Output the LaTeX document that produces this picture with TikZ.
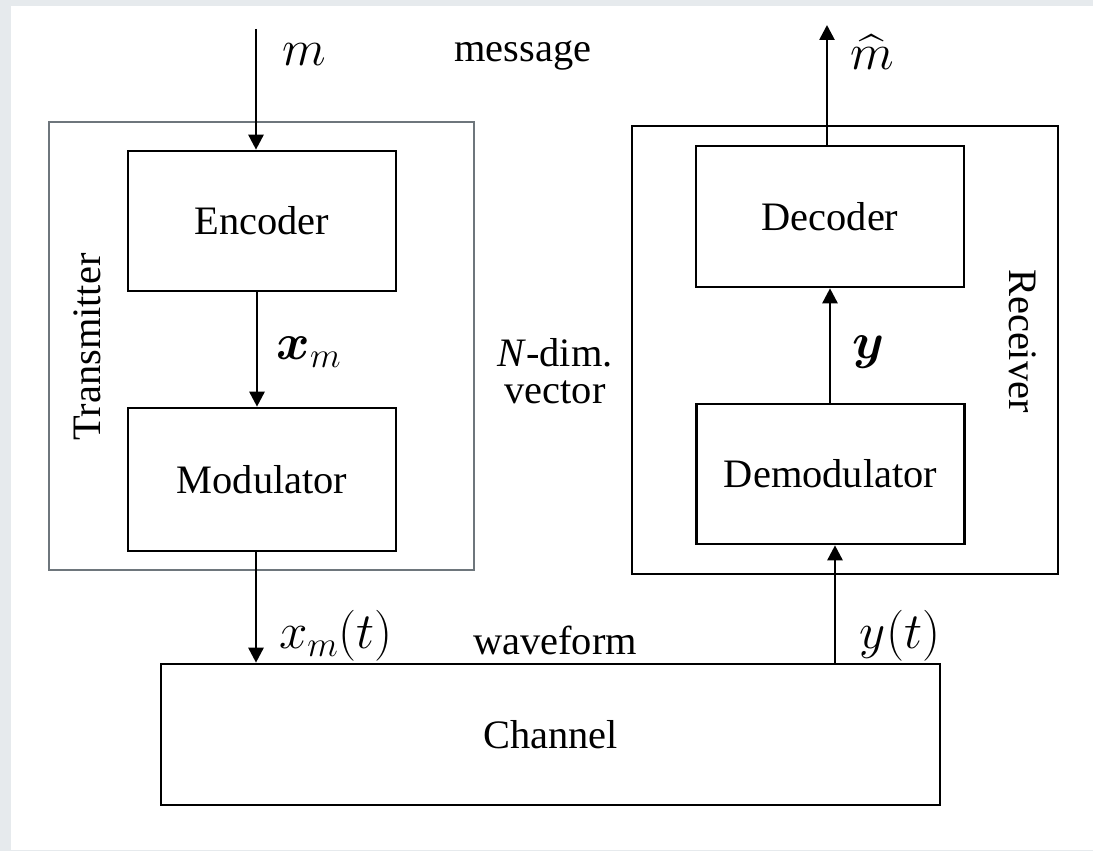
\RequirePackage{fix-cm}
\documentclass[tikz,border=0pt]{standalone}
\usepackage{amsmath}
\usepackage{fontspec}
\setmainfont{Liberation Serif}
\usetikzlibrary{arrows.meta}
\definecolor{pagegray}{HTML}{E6EAED}
\definecolor{framegray}{HTML}{6E767C}
\newlength{\pxu}
\setlength{\pxu}{0.02cm}
\tikzset{
  blk/.style={draw=black, line width=1.5pt, minimum width=268\pxu, inner sep=0pt,
              font=\fontsize{23}{27}\selectfont},
  frame/.style={draw, line width=1.5pt, inner sep=0pt},
  lbl/.style={font=\fontsize{23}{27}\selectfont, inner sep=0pt},
  mlbl/.style={font=\fontsize{29}{33}\selectfont, inner sep=0pt},
  conn/.style={line width=1.5pt, -{Triangle[length=8.5pt,width=8.5pt]}},
}
\begin{document}
\begin{tikzpicture}[x=0.02cm, y=-0.02cm]
  % page background
  \fill[pagegray] (0,0) rectangle (1093,851);
  \fill[white] (11,6) rectangle (1093,850);
  \useasboundingbox (0,0) rectangle (1093,851);

  % outer frames
  \node[frame, draw=framegray, minimum width=425\pxu, minimum height=448\pxu] (tx) at (261.5,346) {};
  \node[frame, draw=black, minimum width=426\pxu, minimum height=448\pxu] (rx) at (845,350) {};

  % blocks
  \node[blk, minimum height=140\pxu] (enc) at (262,221) {Encoder};
  \node[blk, minimum height=143\pxu] (mod) at (262,479.5) {Modulator};
  \node[blk, minimum height=141\pxu] (dec) at (830,216.5) {Decoder};
  \node[blk, minimum height=140\pxu] (dem) at (830.5,474) {Demodulator};
  \node[blk, minimum width=779\pxu, minimum height=141\pxu] (ch) at (550.5,734.5) {Channel};

  % free ends of the input and output lines
  \coordinate (src) at (256,29);
  \coordinate (snk) at (827,25);

  % connectors
  \draw[conn] (src) -- (src |- enc.north);
  \draw[conn] (enc.south -| 257,0) -- (mod.north -| 257,0);
  \draw[conn] (mod.south -| 256,0) -- (ch.north -| 256,0);
  \draw[conn] (ch.north -| 835,0) -- (dem.south -| 835,0);
  \draw[conn] (dem.north -| 830,0) -- (dec.south -| 830,0);
  \draw[conn] (dec.north -| snk) -- (snk);

  % labels
  \node[mlbl] (lm) at (304,55) {$m$};
  \node[lbl] (lmsg) at (523,55) {message};
  \node[mlbl] (lmh) at (872,52) {$\widehat{m}$};
  \node[mlbl] (lxm) at (309,352) {$\boldsymbol{x}_m$};
  \node[lbl, align=center, font=\fontsize{23}{21}\selectfont] (lvec) at (555,371) {\textit{N}-dim.\\vector};
  \node[mlbl] (ly) at (868,352) {$\boldsymbol{y}$};
  \node[mlbl] (lxt) at (336,636) {$x_m(t)$};
  \node[lbl] (lwave) at (555,640) {waveform};
  \node[mlbl] (lyt) at (900,636) {$y(t)$};
  \node[lbl, rotate=90] (ltx) at (87,347) {Transmitter};
  \node[lbl, rotate=-90] (lrx) at (1023,341) {Receiver};
\end{tikzpicture}
\end{document}
